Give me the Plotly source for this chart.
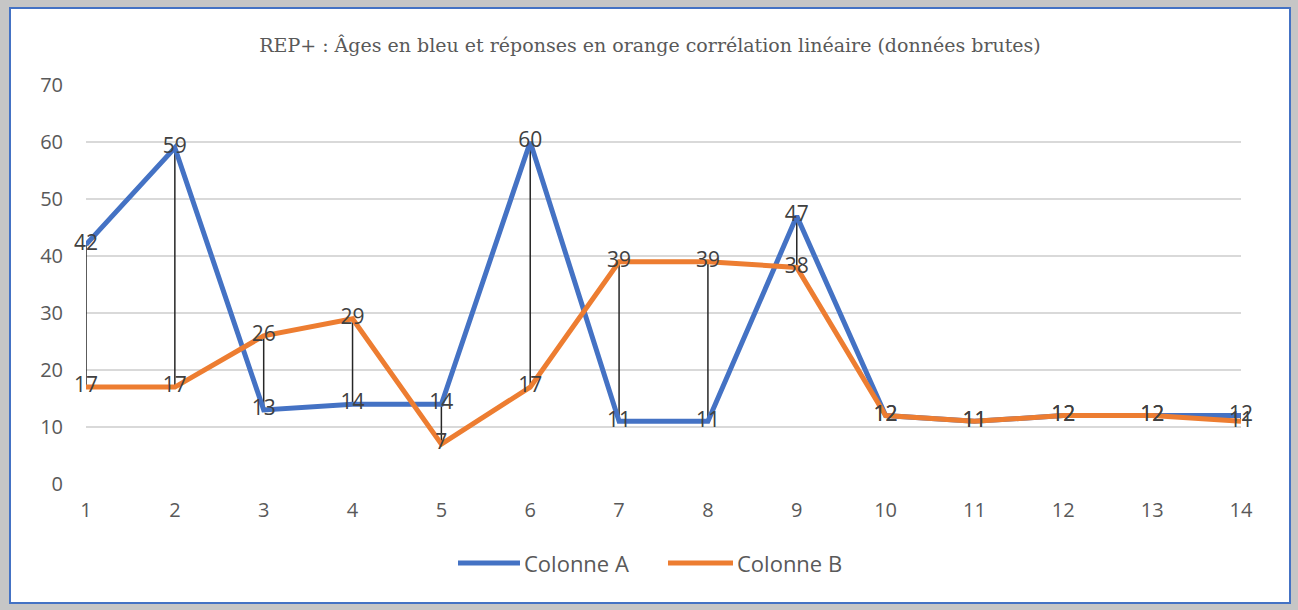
import plotly.graph_objects as go

categories = list(range(1, 15))
colonne_a = [42, 59, 13, 14, 14, 60, 11, 11, 47, 12, 11, 12, 12, 12]
colonne_b = [17, 17, 26, 29, 7, 17, 39, 39, 38, 12, 11, 12, 12, 11]
series_names = ["Colonne A", "Colonne B"]
y_ticks = [0, 10, 20, 30, 40, 50, 60, 70]
title_text = "REP+ : Âges en bleu et réponses en orange corrélation linéaire (données brutes)"

BLUE = "#4472C4"
ORANGE = "#ED7D31"
FONT = "Open Sans, Noto Sans, sans-serif"

W, H = 1298, 610
L, R, T, B = 86, 57, 85, 126
pw, ph = W - L - R, H - T - B

def px_x(p):
    return (p - L) / pw

def px_y(p):
    return (H - B - p) / ph

fig = go.Figure()

# high-low lines
hx, hy = [], []
for x, a, b in zip(categories, colonne_a, colonne_b):
    hx += [x, x, None]
    hy += [min(a, b), max(a, b), None]
fig.add_trace(go.Scatter(x=hx, y=hy, mode="lines", line=dict(color="#262626", width=1.5),
                         showlegend=False, hoverinfo="skip"))

fig.add_trace(go.Scatter(x=categories, y=colonne_a, mode="lines", name=series_names[0],
                         line=dict(color=BLUE, width=5), cliponaxis=False, showlegend=False))
fig.add_trace(go.Scatter(x=categories, y=colonne_b, mode="lines", name=series_names[1],
                         line=dict(color=ORANGE, width=5), cliponaxis=False, showlegend=False))

for ys in (colonne_a, colonne_b):
    fig.add_trace(go.Scatter(x=categories, y=ys, mode="text", text=[str(v) for v in ys],
                             textposition="middle center", cliponaxis=False,
                             textfont=dict(family=FONT, size=21, color="#404040"),
                             showlegend=False, hoverinfo="skip"))

fig.add_shape(type="rect", xref="paper", yref="paper",
              x0=px_x(10), x1=px_x(1290), y0=px_y(603), y1=px_y(8),
              fillcolor="white", line=dict(color=BLUE, width=2), layer="below")

# custom legend
legend_items = [(series_names[0], BLUE, 458, 520), (series_names[1], ORANGE, 668, 733)]
for name, col, lx0, lx1 in legend_items:
    fig.add_shape(type="line", xref="paper", yref="paper",
                  x0=px_x(lx0), x1=px_x(lx1), y0=px_y(563), y1=px_y(563),
                  line=dict(color=col, width=5))
    fig.add_annotation(xref="paper", yref="paper", x=px_x(lx1 + 2), y=px_y(563),
                       xanchor="left", yanchor="middle", text=name, showarrow=False,
                       font=dict(family=FONT, size=22, color="#595959"))

fig.update_layout(
    width=W, height=H,
    margin=dict(l=L, r=R, t=T, b=B, autoexpand=False),
    paper_bgcolor="#c6c6c6",
    plot_bgcolor="rgba(0,0,0,0)",
    showlegend=False,
    title=dict(text=title_text, x=px_x(650), xref="paper", xanchor="center",
               y=1 - 45 / H, yref="container", yanchor="middle",
               font=dict(family="DejaVu Serif, serif", size=19, color="#595959")),
    xaxis=dict(range=[1, 14], tickvals=categories, showgrid=False, zeroline=False,
               showline=False, ticks="", ticklabelstandoff=12,
               tickfont=dict(family=FONT, size=20, color="#595959")),
    yaxis=dict(range=[0, 70], tickvals=y_ticks, showgrid=True, gridcolor="#d9d9d9", gridwidth=1.5,
               zeroline=False, showline=False, ticks="", ticklabelstandoff=22,
               tickfont=dict(family=FONT, size=20, color="#595959")),
)

fig.write_html("out.html", config={"displayModeBar": False},
               post_script="document.body.style.margin='0';document.body.style.overflow='hidden';")
